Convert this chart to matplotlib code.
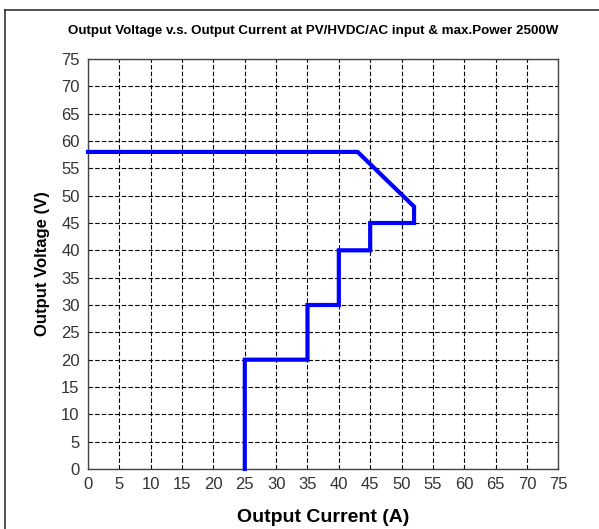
import matplotlib
matplotlib.use("Agg")
import matplotlib.pyplot as plt
from matplotlib.lines import Line2D

# Courbe tension / courant
courant = [0, 43, 52, 52, 45, 45, 40, 40, 35, 35, 25, 25]
tension = [58, 58, 48, 45, 45, 40, 40, 30, 30, 20, 20, 0]
graduations = list(range(0, 80, 5))

plt.rcParams['font.family'] = ['Liberation Sans', 'DejaVu Sans']

fig = plt.figure(figsize=(5.99, 5.29), dpi=100)
ax = fig.add_axes([0.147, 0.1134, 0.785, 0.7751])

ax.plot(courant, tension, color='#0000ff', linewidth=3, solid_joinstyle='miter', clip_on=False, zorder=3)

ax.set_xlim(0, 75)
ax.set_ylim(0, 75)
ax.set_xticks(graduations)
ax.set_yticks(graduations)
ax.tick_params(length=0, labelsize=12, labelcolor='#333333', pad=6)
ax.grid(True, color='black', linestyle=(0, (4, 2)), linewidth=0.8)
for s in ax.spines.values():
    s.set_color('#444444')
    s.set_linewidth(1.0)

ax.set_xlabel("Output Current (A)", fontsize=14, fontweight='bold', labelpad=12)
ax.set_ylabel("Output Voltage (V)", fontsize=12, fontweight='bold', labelpad=8)
ax.set_title("Output Voltage v.s. Output Current at PV/HVDC/AC input & max.Power 2500W",
             fontsize=9.6, fontweight='bold', pad=18, x=0.479)

# cadre (haut et gauche seulement)
haut = 1 - 10 / 529
gauche = 4.5 / 599
fig.lines.append(Line2D([gauche, 1], [haut, haut], transform=fig.transFigure, color='#333333', linewidth=1.2))
fig.lines.append(Line2D([gauche, gauche], [0, haut], transform=fig.transFigure, color='#333333', linewidth=1.2))

plt.savefig("out.png", dpi=100)
